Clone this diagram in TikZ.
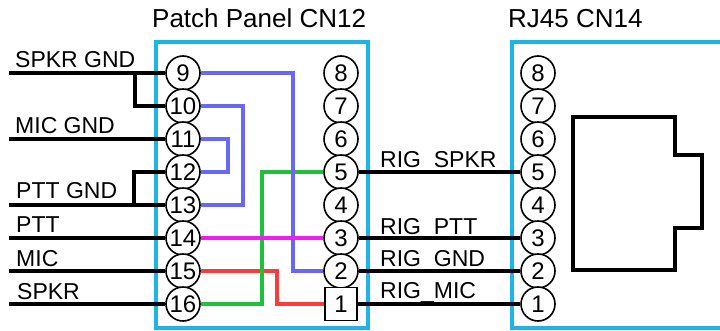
\documentclass[tikz,border=0pt]{standalone}
\usepackage{fontspec}
\setmainfont{Liberation Sans}

\definecolor{panelcyan}{HTML}{1EB4E6}
\definecolor{wireblue}{HTML}{6868F4}
\definecolor{wiregreen}{HTML}{22C03A}
\definecolor{wirered}{HTML}{FF3C3C}
\definecolor{wirepink}{HTML}{F01CF0}

\begin{document}
\begin{tikzpicture}[x=1pt, y=-1pt,
    pin/.style={circle, draw, line width=1.6pt, fill=white, minimum size=34pt,
      inner sep=0pt, font=\fontsize{24}{24}\selectfont},
    sqpin/.style={rectangle, draw, line width=1.6pt, fill=white, minimum width=32pt,
      minimum height=33pt, inner sep=0pt, font=\fontsize{24}{24}\selectfont},
    boxline/.style={panelcyan, line width=3.5pt},
    wire/.style={line width=4pt},
    cwire/.style={line width=3.8pt},
    lbl/.style={anchor=base west, inner sep=0pt, font=\fontsize{23}{23}\selectfont},
    heading/.style={anchor=base west, inner sep=0pt, font=\fontsize{26}{26}\selectfont}]
      \useasboundingbox (0,0) rectangle (720,331);

      % housings
      \draw[boxline] (156,42) rectangle (368,328);
      \draw[boxline] (722,42) -- (512,42) -- (512,328) -- (722,328);
      \node[heading] (cn12) at (152,28) {Patch Panel CN12};
      \node[heading] (cn14) at (508,28) {RJ45 CN14};

      % patch panel, left row
      \node[pin] (p9) at (183,73) {9};
      \node[pin] (p10) at (183,106) {10};
      \node[pin] (p11) at (183,139) {11};
      \node[pin] (p12) at (183,172) {12};
      \node[pin] (p13) at (183,205) {13};
      \node[pin] (p14) at (183,238) {14};
      \node[pin] (p15) at (183,271) {15};
      \node[pin] (p16) at (183,304) {16};

      % patch panel, right row
      \node[pin] (q8) at (341,73) {8};
      \node[pin] (q7) at (341,106) {7};
      \node[pin] (q6) at (341,139) {6};
      \node[pin] (q5) at (341,172) {5};
      \node[pin] (q4) at (341,205) {4};
      \node[pin] (q3) at (341,238) {3};
      \node[pin] (q2) at (341,271) {2};
      \node[sqpin] (q1) at (341,304) {1};

      % rj45 jack
      \node[pin] (r8) at (538,73) {8};
      \node[pin] (r7) at (538,106) {7};
      \node[pin] (r6) at (538,139) {6};
      \node[pin] (r5) at (538,172) {5};
      \node[pin] (r4) at (538,205) {4};
      \node[pin] (r3) at (538,238) {3};
      \node[pin] (r2) at (538,271) {2};
      \node[pin] (r1) at (538,304) {1};
      \draw[line width=4pt] (573,117) -- (675,117) -- (675,155) -- (702,155)
        -- (702,228) -- (675,228) -- (675,270) -- (573,270) -- cycle;

      % cable side
      \coordinate (spkrgnd) at (9,73);
      \coordinate (micgnd) at (9,139);
      \coordinate (pttgnd) at (9,205);
      \coordinate (ptt) at (9,238);
      \coordinate (mic) at (9,271);
      \coordinate (spkr) at (9,304);
      \draw[wire] (spkrgnd) -- (p9);
      \draw[wire] (135,73) |- (p10);
      \draw[wire] (micgnd) -- (p11);
      \draw[wire] (p12) -| (134,205);
      \draw[wire] (pttgnd) -- (p13);
      \draw[wire] (ptt) -- (p14);
      \draw[wire] (mic) -- (p15);
      \draw[wire] (spkr) -- (p16);
      \node[lbl] at (15,68) {SPKR GND};
      \node[lbl] at (15,134) {MIC GND};
      \node[lbl] at (16,199) {PTT GND};
      \node[lbl] at (16,233) {PTT};
      \node[lbl] at (16,266) {MIC};
      \node[lbl] at (17,299) {SPKR};

      % jumpers inside the panel
      \draw[cwire, wirered] (p15) -- (277,271) |- (q1);
      \draw[cwire, wiregreen] (p16) -- (262,304) |- (q5);
      \draw[cwire, wireblue] (p9) -- (293,73) |- (q2);
      \draw[cwire, wireblue] (p10) -- (243,106) |- (p13);
      \draw[cwire, wireblue] (p11) -- (228,139) |- (p12);
      \draw[cwire, wirepink] (p14) -- (q3);

      % panel to rj45
      \draw[wire] (q5) -- (r5);
      \draw[wire] (q3) -- (r3);
      \draw[wire] (q2) -- (r2);
      \draw[wire] (q1) -- (r1);
      \node[lbl] at (380,168) {RIG\_SPKR};
      \node[lbl] at (380,234) {RIG\_PTT};
      \node[lbl] at (380,266) {RIG\_GND};
      \node[lbl] at (380,298) {RIG\_MIC};
    \end{tikzpicture}
\end{document}
